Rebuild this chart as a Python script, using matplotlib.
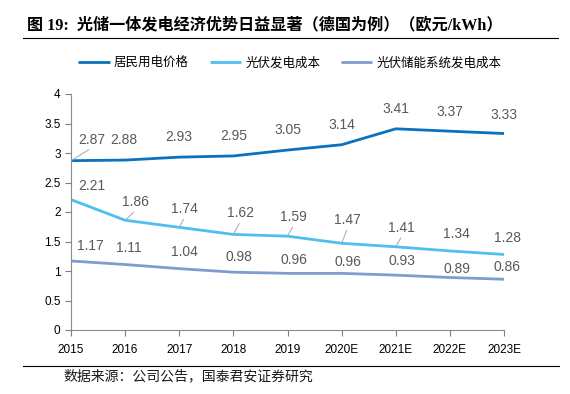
import matplotlib
matplotlib.use("Agg")
import matplotlib.pyplot as plt

plt.rcParams['font.family'] = ['Liberation Sans', 'Noto Sans CJK SC']

# data (EUR/kWh)
years = ['2015', '2016', '2017', '2018', '2019', '2020E', '2021E', '2022E', '2023E']
household_price = [2.87, 2.88, 2.93, 2.95, 3.05, 3.14, 3.41, 3.37, 3.33]
pv_cost = [2.21, 1.86, 1.74, 1.62, 1.59, 1.47, 1.41, 1.34, 1.28]
pv_storage_cost = [1.17, 1.11, 1.04, 0.98, 0.96, 0.96, 0.93, 0.89, 0.86]

# label placement (pixel offsets from the point) and which labels get a leader line
price_off = [(21, 21), (-1, 20), (0, 20), (0, 20), (0, 20), (0, 20), (0, 20), (0, 19), (0, 19)]
price_lead = [True] + [False] * 8
pv_off = [(21, 14), (10, 18), (5, 18), (7, 21), (6, 19), (6, 23), (6, 19), (7, 17), (3, 16)]
pv_lead = [False, True, True, True, True, True, True, False, False]
st_off = [(19, 15), (4, 17), (5, 17), (6, 15), (6, 13), (6, 11), (6, 14), (7, 8), (3, 12)]
st_lead = [False] * 9

c_price = '#0B72C0'
c_pv = '#4DC0EF'
c_st = '#7E9DCC'
label_color = '#595959'

fig = plt.figure(figsize=(5.7, 3.94), dpi=100)
ax = fig.add_axes([71 / 570, 1 - 330 / 394, (504 - 71) / 570, (330 - 94) / 394])

x = list(range(len(years)))
ax.plot(x, household_price, color=c_price, lw=2.0, label='居民用电价格', solid_capstyle='butt')
ax.plot(x, pv_cost, color=c_pv, lw=2.0, label='光伏发电成本', solid_capstyle='butt')
ax.plot(x, pv_storage_cost, color=c_st, lw=2.0, label='光伏储能系统发电成本', solid_capstyle='butt')


def add_labels(vals, offs, leads):
    for i, v in enumerate(vals):
        dx, dy = offs[i]
        ax.annotate(f'{v:.2f}', xy=(i, v), xytext=(dx, dy), textcoords='offset pixels',
                    ha='center', va='center', fontsize=10, color=label_color,
                    annotation_clip=False)
        if leads[i]:
            # short grey leader from the point towards the label
            ax.annotate('', xy=(i, v), xytext=(dx * 0.85, dy - 10), textcoords='offset pixels',
                        arrowprops=dict(arrowstyle='-', color='#A6A6A6', lw=0.7,
                                        shrinkA=0, shrinkB=0),
                        annotation_clip=False)


add_labels(household_price, price_off, price_lead)
add_labels(pv_cost, pv_off, pv_lead)
add_labels(pv_storage_cost, st_off, st_lead)

ax.set_xlim(0, len(years) - 1)
ax.set_ylim(0, 4)
ax.set_xticks(x)
ax.set_xticklabels(years)
ax.set_yticks([0, 0.5, 1, 1.5, 2, 2.5, 3, 3.5, 4])
ax.set_yticklabels(['0', '0.5', '1', '1.5', '2', '2.5', '3', '3.5', '4'])
ax.tick_params(axis='both', labelsize=8.5, colors='#7F7F7F', labelcolor='black', length=4, width=0.8)
ax.tick_params(axis='x', pad=6)
for s in ['top', 'right']:
    ax.spines[s].set_visible(False)
for s in ['left', 'bottom']:
    ax.spines[s].set_color('#8C8C8C')
    ax.spines[s].set_linewidth(0.8)

fig.legend(loc='center', bbox_to_anchor=(290 / 570, 1 - 63 / 394), ncol=3, frameon=False,
           fontsize=9, handlelength=2.5, handletextpad=0.35, columnspacing=1.65)

# title, rules and source
fig.text(27 / 570, 1 - 25 / 394, '图 19:  光储一体发电经济优势日益显著（德国为例）（欧元/kWh）',
         fontsize=11.6, fontweight='bold', va='center', ha='left',
         family=['Liberation Serif', 'Noto Sans CJK SC'])
fig.add_artist(plt.Line2D([23 / 570, 558 / 570], [1 - 38 / 394, 1 - 38 / 394], color='black', lw=0.8))
fig.add_artist(plt.Line2D([23 / 570, 559 / 570], [1 - 366 / 394, 1 - 366 / 394], color='black', lw=0.8))
fig.text(63 / 570, 1 - 376 / 394, '数据来源：公司公告，国泰君安证券研究', fontsize=10, va='center', ha='left',
         color='#1a1a1a', family=['Noto Sans CJK SC'])

fig.savefig('out.png', dpi=100)
